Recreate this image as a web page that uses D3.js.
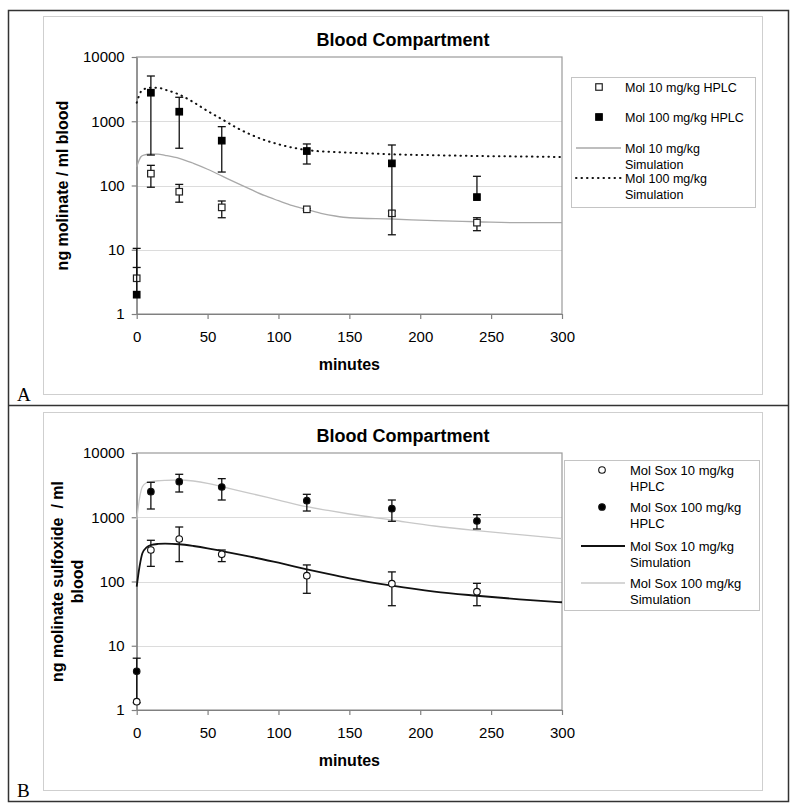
<!DOCTYPE html>
<html><head><meta charset="utf-8">
<script src="https://cdn.jsdelivr.net/npm/d3@7"></script>
<style>body{margin:0;background:#fff}</style>
</head><body><svg id="c" width="800" height="810"></svg>
<script>
// ---------- data ----------
const xTicks = [0, 50, 100, 150, 200, 250, 300];
const yTicks = [1, 10, 100, 1000, 10000];

// Panel A : molinate
const timesA = [0, 10, 30, 60, 120, 180, 240];
const mol10   = [3.6, 153, 80, 45.7, 42.6, 36.9, 26.4];
const mol10Hi = [5.3, 206, 104, 57.4, 44, 40.1, 31.5];
const mol10Lo = [null, 94, 55, 31.5, 41, 33.5, 19.8];
const mol100   = [2, 2780, 1408, 499, 344, 221, 66];
const mol100Hi = [10.5, 5060, 2360, 824, 443, 427, 139];
const mol100Lo = [null, 298, 380, 162, 216, 17.1, null];

const simTimeA = [0, 3, 5, 10, 15, 20, 30, 40, 50, 60, 70, 80, 90, 100, 110, 120, 130, 140, 150, 180, 210, 240, 270, 300];
const simMol10  = [196, 280, 298, 309, 308, 295, 265, 221, 179, 141, 111, 88, 70, 58, 48.5, 42, 36.9, 33.5, 31.5, 30.1, 28.3, 27.3, 26.4, 26.4];
const simMol100 = [1945, 2900, 3150, 3330, 3330, 3100, 2600, 1980, 1440, 1080, 804, 626, 511, 438, 388, 357, 340, 332, 325, 306, 296, 288, 283, 278];

// Panel B : molinate sulfoxide
const timesB = [0, 10, 30, 60, 120, 180, 240];
const sox10   = [1.35, 309, 459, 265, 123, 92.5, 69.5];
const sox10Hi = [null, 438, 705, 309, 181, 141, 93.6];
const sox10Lo = [null, 172, 204, 204, 65.5, 42, 42];
const sox100   = [4, 2500, 3578, 2956, 1811, 1360, 874];
const sox100Hi = [6.4, 3500, 4660, 3990, 2275, 1855, 1096];
const sox100Lo = [1.3, 1344, 2472, 1855, 1250, 865, 656];

const simTimeB = [0, 2, 4, 7, 10, 15, 20, 30, 40, 50, 60, 80, 100, 120, 135, 150, 180, 210, 240, 270, 300];
const simSox10  = [83, 170, 275, 340, 370, 384, 388, 380, 357, 329, 298, 243, 196, 155, 131, 112, 86, 69.5, 60, 52.8, 47.5];
const simSox100 = [906, 1972, 2990, 3450, 3580, 3700, 3757, 3800, 3665, 3375, 2990, 2360, 1855, 1459, 1275, 1123, 906, 731, 618, 535, 464];

const titleText = "Blood Compartment";
const xTitle = "minutes";

// ---------- drawing ----------
const FONT = '"Liberation Sans", Arial, sans-serif';
const svg = d3.select("#c");

// outer frame
svg.append("rect").attr("x", 8.5).attr("y", 10.5).attr("width", 780).attr("height", 791)
  .attr("fill", "none").attr("stroke", "#333").attr("stroke-width", 1.5);
svg.append("line").attr("x1", 8.5).attr("x2", 788.5).attr("y1", 405.5).attr("y2", 405.5)
  .attr("stroke", "#333").attr("stroke-width", 1.5);

function panel(o) {
  const g = svg.append("g");
  const x = d3.scaleLinear().domain([0, 300]).range([136.7, 562]);
  const y = d3.scaleLog().domain([1, 10000]).range([o.bottom, o.top]);

  // chart area
  g.append("rect").attr("x", 43.5).attr("y", o.areaTop + 0.5).attr("width", 719).attr("height", 378)
    .attr("fill", "none").attr("stroke", "#cfcfcf");
  // panel letter
  g.append("text").attr("x", 17).attr("y", o.areaTop + 385).attr("font-family", '"Liberation Serif", "Times New Roman", serif')
    .attr("font-size", 19).text(o.letter);

  // gridlines
  g.append("g").selectAll("line").data(yTicks.slice(1, -1)).join("line")
    .attr("x1", x(0)).attr("x2", x(300)).attr("y1", d => Math.round(y(d)) + 0.5).attr("y2", d => Math.round(y(d)) + 0.5)
    .attr("stroke", "#dcdcdc");
  // plot border
  g.append("rect").attr("x", x(0)).attr("y", o.top).attr("width", x(300) - x(0)).attr("height", o.bottom - o.top)
    .attr("fill", "none").attr("stroke", "#9a9a9a").attr("stroke-width", 1.2);

  // axes
  const ya = g.append("g").attr("transform", `translate(${x(0)},0)`)
    .call(d3.axisLeft(y).tickValues(yTicks).tickFormat(d => d).tickSize(5).tickSizeOuter(0).tickPadding(7));
  const xa = g.append("g").attr("transform", `translate(0,${o.bottom})`)
    .call(d3.axisBottom(x).tickValues(xTicks).tickSize(5).tickSizeOuter(0).tickPadding(12));
  [ya, xa].forEach(a => {
    a.attr("font-family", FONT).attr("font-size", 15);
    a.selectAll("path,line").attr("stroke", "#808080").attr("stroke-width", 1.2);
    a.selectAll("text").attr("fill", "#000");
  });

  // titles
  g.append("text").attr("x", 403).attr("y", o.top - 11).attr("text-anchor", "middle")
    .attr("font-family", FONT).attr("font-weight", "bold").attr("font-size", 18).text(titleText);
  g.append("text").attr("x", (x(0) + x(300)) / 2).attr("y", o.bottom + 56).attr("text-anchor", "middle")
    .attr("font-family", FONT).attr("font-weight", "bold").attr("font-size", 16).text(xTitle);
  const yc = (o.top + o.bottom) / 2;
  o.yTitle.forEach((t, i) => {
    g.append("text").attr("transform", `translate(${o.yTitleX[i]},${yc}) rotate(-90)`)
      .attr("text-anchor", "middle").attr("font-family", FONT).attr("font-weight", "bold")
      .attr("font-size", 16).style("white-space", "pre").text(t);
  });

  // simulation lines
  const line = d3.line().x(d => x(d[0])).y(d => y(d[1])).curve(d3.curveMonotoneX);
  o.sims.forEach(s => {
    g.append("path").datum(d3.zip(s.t, s.v)).attr("d", line).attr("fill", "none")
      .attr("stroke", s.color).attr("stroke-width", s.width)
      .attr("stroke-dasharray", s.dash || null).attr("stroke-linecap", s.dash ? "round" : "butt");
  });

  // error bars + markers
  o.series.forEach(s => {
    const eg = g.append("g").attr("stroke", "#111").attr("stroke-width", 1.3);
    s.t.forEach((t, i) => {
      const cx = x(t);
      const hi = s.hi[i], lo = s.lo[i];
      const yTop = hi != null ? y(hi) : y(s.v[i]);
      const yBot = lo != null ? y(lo) : y(s.v[i]);
      eg.append("line").attr("x1", cx).attr("x2", cx).attr("y1", yTop).attr("y2", yBot);
      if (hi != null) eg.append("line").attr("x1", cx - 4).attr("x2", cx + 4).attr("y1", yTop).attr("y2", yTop);
      if (lo != null) eg.append("line").attr("x1", cx - 4).attr("x2", cx + 4).attr("y1", yBot).attr("y2", yBot);
    });
    s.t.forEach((t, i) => drawMarker(g, s.shape, s.filled, x(t), y(s.v[i])));
  });

  // legend
  const L = o.legend;
  g.append("rect").attr("x", L.x + 0.5).attr("y", L.y + 0.5).attr("width", L.w).attr("height", L.h)
    .attr("fill", "#fff").attr("stroke", "#c4c4c4");
  L.items.forEach(it => {
    if (it.marker) drawMarker(g, it.marker.shape, it.marker.filled, L.mx, it.y);
    if (it.line) g.append("line").attr("x1", L.lx1).attr("x2", L.lx2).attr("y1", it.y).attr("y2", it.y)
      .attr("stroke", it.line.color).attr("stroke-width", it.line.width)
      .attr("stroke-dasharray", it.line.dash || null).attr("stroke-linecap", it.line.dash ? "round" : "butt");
    it.text.forEach((t, j) => g.append("text").attr("x", L.tx).attr("y", it.y + 4.5 + j * L.lh)
      .attr("font-family", FONT).attr("font-size", L.fs).text(t));
  });
}

function drawMarker(g, shape, filled, cx, cy) {
  if (shape === "square") {
    const s = 6.5;
    g.append("rect").attr("x", cx - s / 2).attr("y", cy - s / 2).attr("width", s).attr("height", s)
      .attr("fill", filled ? "#000" : "#fff").attr("stroke", filled ? "#000" : "#222").attr("stroke-width", 1.2);
  } else {
    g.append("circle").attr("cx", cx).attr("cy", cy).attr("r", 3.3)
      .attr("fill", filled ? "#000" : "#fff").attr("stroke", "#111").attr("stroke-width", 1.1);
  }
}

const dotted = { color: "#111", width: 2, dash: "0.5,5" };
const grayA = { color: "#a9a9a9", width: 1.3 };
const blackB = { color: "#111", width: 1.8 };
const grayB = { color: "#c8c8c8", width: 1.3 };

panel({
  letter: "A", areaTop: 16, top: 57, bottom: 314,
  yTitle: ["ng molinate / ml blood"], yTitleX: [68],
  sims: [
    Object.assign({ t: simTimeA, v: simMol10 }, grayA),
    Object.assign({ t: simTimeA, v: simMol100 }, dotted)
  ],
  series: [
    { t: timesA, v: mol10, hi: mol10Hi, lo: mol10Lo, shape: "square", filled: false },
    { t: timesA, v: mol100, hi: mol100Hi, lo: mol100Lo, shape: "square", filled: true }
  ],
  legend: {
    x: 571, y: 77, w: 184, h: 130, mx: 599, tx: 625, lx1: 576, lx2: 621, fs: 12.5, lh: 16,
    items: [
      { y: 87, marker: { shape: "square", filled: false }, text: ["Mol 10 mg/kg HPLC"] },
      { y: 117, marker: { shape: "square", filled: true }, text: ["Mol 100 mg/kg HPLC"] },
      { y: 148, line: grayA, text: ["Mol 10 mg/kg", "Simulation"] },
      { y: 178, line: dotted, text: ["Mol 100 mg/kg", "Simulation"] }
    ]
  }
});

panel({
  letter: "B", areaTop: 412, top: 453, bottom: 710,
  yTitle: ["ng molinate sulfoxide  / ml", "blood"], yTitleX: [63, 83],
  sims: [
    Object.assign({ t: simTimeB, v: simSox100 }, grayB),
    Object.assign({ t: simTimeB, v: simSox10 }, blackB)
  ],
  series: [
    { t: timesB, v: sox100, hi: sox100Hi, lo: sox100Lo, shape: "circle", filled: true },
    { t: timesB, v: sox10, hi: sox10Hi, lo: sox10Lo, shape: "circle", filled: false }
  ],
  legend: {
    x: 564, y: 460, w: 195, h: 150, mx: 602, tx: 630, lx1: 581, lx2: 625, fs: 13, lh: 16,
    items: [
      { y: 470, marker: { shape: "circle", filled: false }, text: ["Mol Sox 10 mg/kg", "HPLC"] },
      { y: 507, marker: { shape: "circle", filled: true }, text: ["Mol Sox 100 mg/kg", "HPLC"] },
      { y: 546, line: blackB, text: ["Mol Sox 10 mg/kg", "Simulation"] },
      { y: 583, line: grayB, text: ["Mol Sox 100 mg/kg", "Simulation"] }
    ]
  }
});
</script></body></html>
